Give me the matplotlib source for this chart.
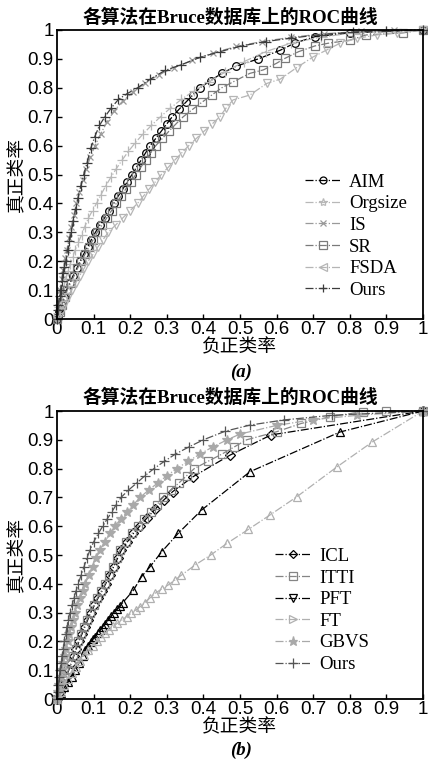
import matplotlib
matplotlib.use("Agg")
import matplotlib.pyplot as plt
from matplotlib.lines import Line2D

# ---------------- data: panel (a) ----------------
a_labels = ["AIM", "Orgsize", "IS", "SR", "FSDA", "Ours"]

aim_fpr = [0, 0.003, 0.006, 0.009, 0.013, 0.019, 0.026, 0.035, 0.044, 0.054, 0.063, 0.073, 0.084, 0.094, 0.105, 0.117,
           0.13, 0.142, 0.155, 0.167, 0.18, 0.192, 0.205, 0.217, 0.23, 0.242, 0.255, 0.27, 0.285, 0.3, 0.315, 0.333,
           0.352, 0.371, 0.39, 0.42, 0.45, 0.49, 0.55, 0.61, 0.65, 0.705, 0.8, 1.0]
aim_tpr = [0, 0.012, 0.025, 0.038, 0.05, 0.075, 0.1, 0.125, 0.15, 0.175, 0.2, 0.225, 0.25, 0.275, 0.3, 0.325,
           0.35, 0.375, 0.4, 0.425, 0.45, 0.475, 0.5, 0.525, 0.55, 0.575, 0.6, 0.625, 0.65, 0.675, 0.7, 0.725,
           0.75, 0.775, 0.8, 0.825, 0.85, 0.875, 0.9, 0.93, 0.955, 0.977, 0.99, 1.0]

org_fpr = [0, 0.003, 0.006, 0.010, 0.014, 0.019, 0.024, 0.030, 0.036, 0.043, 0.050, 0.058, 0.067, 0.076, 0.086, 0.097,
           0.108, 0.120, 0.133, 0.147, 0.162, 0.178, 0.195, 0.214, 0.235, 0.258, 0.283, 0.31, 0.34, 0.375, 0.415,
           0.46, 0.51, 0.57, 0.64, 0.72, 0.81, 0.9, 1.0]
org_tpr = [0, 0.02, 0.04, 0.065, 0.09, 0.115, 0.14, 0.165, 0.19, 0.215, 0.24, 0.265, 0.29, 0.32, 0.35, 0.375,
           0.40, 0.43, 0.46, 0.49, 0.52, 0.55, 0.58, 0.61, 0.64, 0.67, 0.70, 0.73, 0.76, 0.79, 0.82,
           0.855, 0.89, 0.925, 0.955, 0.975, 0.99, 0.997, 1.0]

is_fpr = [0, 0.003, 0.006, 0.009, 0.013, 0.017, 0.022, 0.027, 0.033, 0.039, 0.046, 0.053, 0.061, 0.070, 0.080, 0.091,
          0.104, 0.119, 0.136, 0.156, 0.18, 0.208, 0.24, 0.278, 0.32, 0.37, 0.425, 0.49, 0.56, 0.64, 0.73, 0.83,
          0.92, 1.0]
is_tpr = [0, 0.04, 0.07, 0.10, 0.14, 0.17, 0.21, 0.24, 0.28, 0.32, 0.36, 0.40, 0.44, 0.48, 0.52, 0.56,
          0.60, 0.64, 0.68, 0.72, 0.755, 0.785, 0.815, 0.845, 0.87, 0.895, 0.92, 0.943, 0.96, 0.975, 0.987, 0.995,
          0.999, 1.0]

sr_fpr = [0, 0.007, 0.014, 0.021, 0.028, 0.037, 0.047, 0.056, 0.066, 0.077, 0.088, 0.099, 0.11, 0.123, 0.136, 0.149,
          0.162, 0.175, 0.188, 0.202, 0.215, 0.229, 0.242, 0.256, 0.27, 0.288, 0.306, 0.325, 0.345, 0.37, 0.396,
          0.423, 0.45, 0.482, 0.527, 0.564, 0.6, 0.623, 0.66, 0.705, 0.74, 0.8, 0.845, 0.945, 1.0]
sr_tpr = [0, 0.025, 0.05, 0.075, 0.1, 0.125, 0.15, 0.175, 0.2, 0.225, 0.25, 0.275, 0.3, 0.325, 0.35, 0.375,
          0.4, 0.425, 0.45, 0.475, 0.5, 0.525, 0.55, 0.575, 0.6, 0.625, 0.65, 0.675, 0.7, 0.725, 0.75,
          0.775, 0.8, 0.821, 0.85, 0.862, 0.885, 0.902, 0.925, 0.945, 0.954, 0.965, 0.983, 0.99, 1.0]

fsda_fpr = [0, 0.01, 0.02, 0.03, 0.04, 0.051, 0.062, 0.074, 0.085, 0.099, 0.112, 0.126, 0.14, 0.16, 0.18, 0.2,
            0.22, 0.236, 0.252, 0.269, 0.285, 0.304, 0.322, 0.341, 0.36, 0.381, 0.402, 0.424, 0.445, 0.462, 0.481,
            0.527, 0.573, 0.61, 0.655, 0.7, 0.737, 0.773, 0.82, 0.874, 0.93, 1.0]
fsda_tpr = [0, 0.025, 0.05, 0.075, 0.1, 0.125, 0.15, 0.175, 0.2, 0.225, 0.25, 0.275, 0.3, 0.325, 0.35, 0.375,
            0.4, 0.425, 0.45, 0.475, 0.5, 0.525, 0.55, 0.575, 0.6, 0.625, 0.65, 0.675, 0.7, 0.73, 0.758,
            0.775, 0.815, 0.83, 0.87, 0.907, 0.931, 0.954, 0.971, 0.983, 0.99, 1.0]

oursa_fpr = [0, 0.002, 0.004, 0.007, 0.010, 0.013, 0.016, 0.020, 0.024, 0.029, 0.034, 0.039, 0.045, 0.051, 0.058,
             0.065, 0.073, 0.082, 0.092, 0.103, 0.116, 0.131, 0.148, 0.168, 0.192, 0.22, 0.255, 0.295, 0.34, 0.39,
             0.445, 0.505, 0.57, 0.64, 0.72, 0.81, 0.9, 1.0]
oursa_tpr = [0, 0.03, 0.05, 0.08, 0.10, 0.13, 0.16, 0.18, 0.20, 0.24, 0.27, 0.30, 0.34, 0.38, 0.42,
             0.46, 0.50, 0.54, 0.59, 0.63, 0.67, 0.70, 0.73, 0.76, 0.78, 0.80, 0.83, 0.86, 0.88, 0.905,
             0.925, 0.945, 0.96, 0.972, 0.984, 0.993, 0.998, 1.0]

# ---------------- data: panel (b) ----------------
b_labels = ["ICL", "ITTI", "PFT", "FT", "GBVS", "Ours"]

icl_fpr = [0, 0.008, 0.016, 0.024, 0.032, 0.039, 0.046, 0.053, 0.06, 0.068, 0.076, 0.084, 0.092, 0.102, 0.112, 0.123,
           0.133, 0.144, 0.155, 0.166, 0.176, 0.192, 0.209, 0.226, 0.247, 0.269, 0.291, 0.316, 0.372, 0.473, 0.585, 1.0]
icl_tpr = [0, 0.025, 0.05, 0.075, 0.1, 0.125, 0.15, 0.175, 0.2, 0.225, 0.25, 0.275, 0.3, 0.325, 0.35, 0.375,
           0.4, 0.43, 0.46, 0.49, 0.517, 0.545, 0.575, 0.6, 0.63, 0.66, 0.69, 0.72, 0.772, 0.847, 0.917, 1.0]

itti_fpr = [0, 0.008, 0.015, 0.023, 0.031, 0.038, 0.045, 0.051, 0.058, 0.066, 0.074, 0.082, 0.09, 0.1, 0.11, 0.121,
            0.131, 0.141, 0.152, 0.163, 0.172, 0.188, 0.205, 0.222, 0.239, 0.256, 0.273, 0.29, 0.311, 0.333, 0.354,
            0.375, 0.412, 0.45, 0.484, 0.518, 0.6, 0.668, 0.746, 0.836, 0.9, 1.0]
itti_tpr = [0, 0.025, 0.05, 0.075, 0.1, 0.125, 0.15, 0.175, 0.2, 0.225, 0.25, 0.275, 0.3, 0.325, 0.35, 0.375,
            0.4, 0.43, 0.46, 0.49, 0.517, 0.545, 0.575, 0.6, 0.625, 0.65, 0.675, 0.7, 0.725, 0.75, 0.775,
            0.8, 0.825, 0.85, 0.875, 0.9, 0.928, 0.957, 0.98, 0.998, 1.0, 1.0]

pft_fpr = [0, 0.01, 0.02, 0.03, 0.04, 0.05, 0.06, 0.07, 0.077, 0.085, 0.092, 0.098, 0.104, 0.111, 0.118, 0.125,
           0.132, 0.14, 0.148, 0.156, 0.164, 0.172, 0.18, 0.209, 0.231, 0.254, 0.286, 0.331, 0.395, 0.527, 0.773, 1.0]
pft_tpr = [0, 0.02, 0.04, 0.058, 0.077, 0.1, 0.125, 0.15, 0.17, 0.185, 0.197, 0.207, 0.216, 0.228, 0.24, 0.251,
           0.262, 0.274, 0.287, 0.3, 0.312, 0.323, 0.335, 0.378, 0.425, 0.459, 0.511, 0.575, 0.656, 0.789, 0.927, 1.0]

ft_fpr = [0, 0.01, 0.02, 0.03, 0.04, 0.052, 0.064, 0.075, 0.086, 0.097, 0.108, 0.12, 0.131, 0.142, 0.154, 0.165,
          0.177, 0.19, 0.202, 0.215, 0.227, 0.24, 0.254, 0.268, 0.286, 0.304, 0.322, 0.34, 0.377, 0.42, 0.464,
          0.523, 0.582, 0.655, 0.765, 0.861, 1.0]
ft_tpr = [0, 0.025, 0.048, 0.07, 0.09, 0.112, 0.133, 0.152, 0.17, 0.185, 0.2, 0.215, 0.229, 0.24, 0.252, 0.263,
          0.274, 0.286, 0.297, 0.309, 0.32, 0.335, 0.351, 0.367, 0.382, 0.396, 0.413, 0.43, 0.465, 0.50, 0.54,
          0.589, 0.639, 0.702, 0.806, 0.892, 1.0]

gbvs_fpr = [0, 0.003, 0.006, 0.01, 0.013, 0.017, 0.021, 0.025, 0.029, 0.034, 0.039, 0.044, 0.049, 0.056, 0.063, 0.07,
            0.077, 0.087, 0.097, 0.107, 0.117, 0.13, 0.145, 0.158, 0.174, 0.191, 0.209, 0.227, 0.25, 0.275, 0.3,
            0.327, 0.358, 0.39, 0.425, 0.465, 0.5, 0.6, 0.7, 0.82, 1.0]
gbvs_tpr = [0, 0.025, 0.05, 0.075, 0.1, 0.125, 0.15, 0.175, 0.2, 0.225, 0.25, 0.275, 0.3, 0.325, 0.35, 0.375,
            0.4, 0.43, 0.46, 0.49, 0.517, 0.545, 0.575, 0.6, 0.625, 0.65, 0.675, 0.7, 0.725, 0.75, 0.775,
            0.8, 0.825, 0.85, 0.875, 0.9, 0.92, 0.95, 0.97, 0.985, 1.0]

oursb_fpr = [0, 0.002, 0.004, 0.006, 0.008, 0.011, 0.014, 0.017, 0.02, 0.024, 0.027, 0.031, 0.035, 0.041, 0.046, 0.052,
             0.058, 0.066, 0.074, 0.082, 0.09, 0.1, 0.113, 0.125, 0.137, 0.15, 0.162, 0.175, 0.195, 0.218, 0.24,
             0.265, 0.293, 0.323, 0.36, 0.40, 0.46, 0.527, 0.62, 0.75, 1.0]
oursb_tpr = [0, 0.025, 0.05, 0.075, 0.1, 0.125, 0.15, 0.175, 0.2, 0.225, 0.25, 0.275, 0.3, 0.325, 0.35, 0.375,
             0.4, 0.43, 0.46, 0.49, 0.517, 0.545, 0.575, 0.6, 0.625, 0.65, 0.675, 0.7, 0.725, 0.75, 0.775,
             0.8, 0.825, 0.85, 0.875, 0.9, 0.93, 0.951, 0.969, 0.985, 1.0]

ticks = [0, 0.1, 0.2, 0.3, 0.4, 0.5, 0.6, 0.7, 0.8, 0.9, 1]
tick_labels = ["0", "0.1", "0.2", "0.3", "0.4", "0.5", "0.6", "0.7", "0.8", "0.9", "1"]
title_text = "各算法在Bruce数据库上的ROC曲线"
xlabel_text = "负正类率"
ylabel_text = "真正类率"

# ---------------- styles ----------------
CJK = ["Liberation Serif", "Noto Sans CJK SC"]
plt.rcParams["font.family"] = ["Liberation Sans", "Noto Sans CJK SC"]

# (x, y, color, plot marker, legend marker, size, filled)
series_a = [
    (aim_fpr, aim_tpr, "#000000", "o", "o", 5.5, False),
    (org_fpr, org_tpr, "#b8b8b8", "+", "*", 6.5, False),
    (is_fpr, is_tpr, "#9a9a9a", "x", "x", 5.0, False),
    (sr_fpr, sr_tpr, "#7a7a7a", "s", "s", 6.0, False),
    (fsda_fpr, fsda_tpr, "#b5b5b5", "v", "<", 6.0, False),
    (oursa_fpr, oursa_tpr, "#3c3c3c", "+", "+", 6.5, False),
]
series_b = [
    (icl_fpr, icl_tpr, "#000000", "D", "D", 5.0, False),
    (itti_fpr, itti_tpr, "#858585", "s", "s", 6.0, False),
    (pft_fpr, pft_tpr, "#000000", "^", "v", 6.0, False),
    (ft_fpr, ft_tpr, "#b0b0b0", "^", ">", 6.0, False),
    (gbvs_fpr, gbvs_tpr, "#a9a9a9", "*", "*", 7.0, True),
    (oursb_fpr, oursb_tpr, "#555555", "+", "+", 7.0, False),
]

fig = plt.figure(figsize=(4.28, 7.59), dpi=100)
W, H = 428.0, 759.0


def make_panel(rect, series, labels, leg_anchor, tag, title_y, xlabel_y, tag_y, ylabel_y):
    ax = fig.add_axes(rect)
    handles = []
    for (x, y, c, m, lm, ms, filled), lab in zip(series, labels):
        mfc = c if filled else "none"
        ax.plot(x, y, linestyle="-.", color=c, lw=0.9, marker=m, markersize=ms,
                markerfacecolor=mfc, markeredgecolor=c, markeredgewidth=0.9, clip_on=False)
        handles.append(Line2D([], [], linestyle="-.", color=c, lw=0.9, marker=lm, markersize=ms - 0.5,
                              markerfacecolor=mfc, markeredgecolor=c, markeredgewidth=0.9, label=lab))
    ax.set_xlim(0, 1)
    ax.set_ylim(0, 1)
    ax.set_xticks(ticks)
    ax.set_yticks(ticks)
    ax.set_xticklabels(tick_labels)
    ax.set_yticklabels(tick_labels)
    ax.tick_params(direction="in", length=3.5, width=1.0, labelsize=13.5, pad=1.5)
    ax.tick_params(axis="y", pad=2.5)
    for sp in ax.spines.values():
        sp.set_linewidth(1.3)
    ax.legend(handles=handles, loc="lower left", bbox_to_anchor=leg_anchor, frameon=False,
              prop={"family": "Liberation Serif", "size": 13.5}, handlelength=1.9,
              handletextpad=0.45, labelspacing=0.24, borderpad=0.0, borderaxespad=0.0)
    fig.text(230 / W, 1 - title_y / H, title_text, ha="center", va="center",
             family=CJK, fontsize=13.5, weight="bold")
    fig.text(239 / W, 1 - xlabel_y / H, xlabel_text, ha="center", va="center",
             family=CJK, fontsize=13.5)
    fig.text(241 / W, 1 - tag_y / H, tag, ha="center", va="center",
             family="Liberation Serif", fontsize=13.5, weight="bold", style="italic")
    fig.text(18 / W, 1 - ylabel_y / H, ylabel_text, ha="center", va="center", rotation=90,
             family=CJK, fontsize=13.5)
    return ax


x0, x1 = 57 / W, 423 / W
make_panel([x0, 1 - 319 / H, x1 - x0, 289 / H], series_a, a_labels, (0.678, 0.07), "(a)",
           18, 348, 372, 175)
make_panel([x0, 1 - 699 / H, x1 - x0, 288 / H], series_b, b_labels, (0.596, 0.09), "(b)",
           398, 728, 750, 555)

fig.savefig("out.png", dpi=100)
